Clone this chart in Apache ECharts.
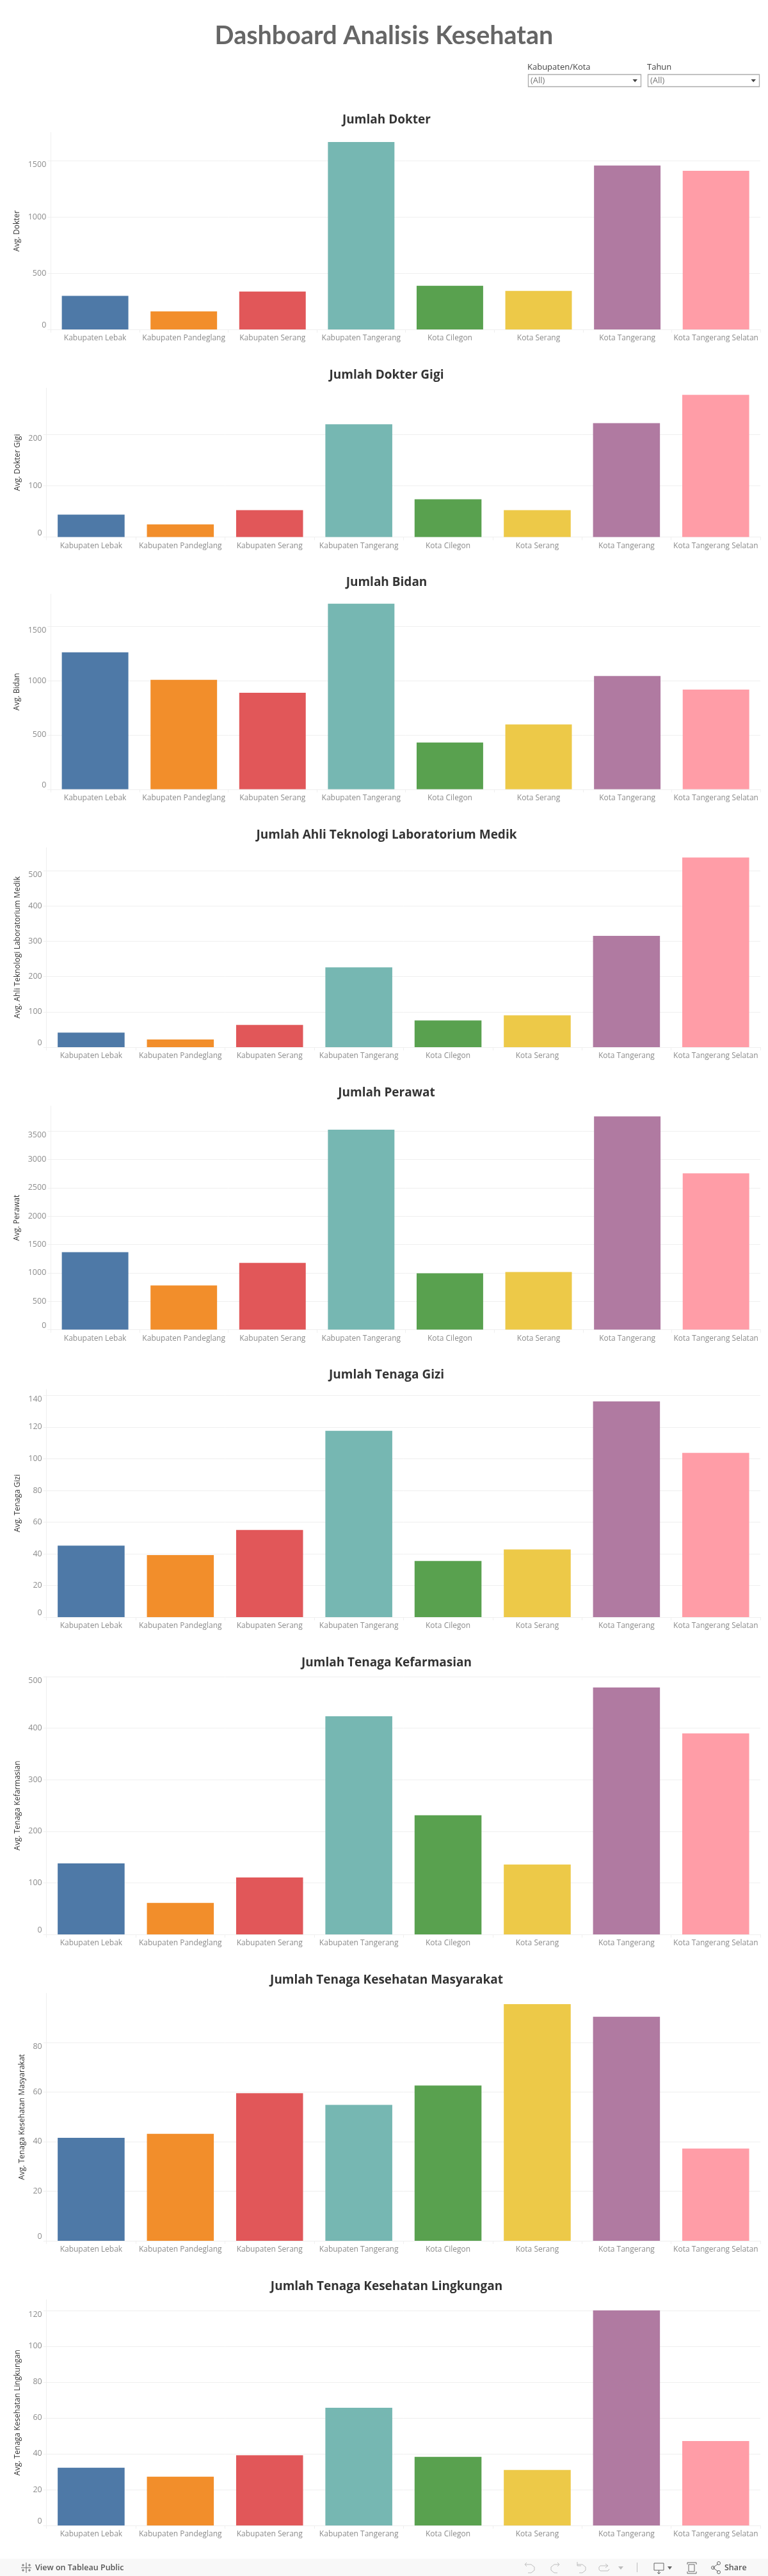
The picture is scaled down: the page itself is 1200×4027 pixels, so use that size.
<!DOCTYPE html>
<html><head><meta charset="utf-8">
<style>html,body{margin:0;padding:0;background:#fff}#c{width:1200px;height:4027px}</style>
<script src="https://cdn.jsdelivr.net/npm/echarts@6/dist/echarts.min.js"></script>
</head><body><div id="c"></div>
<script>
const categories = ['Kabupaten Lebak','Kabupaten Pandeglang','Kabupaten Serang','Kabupaten Tangerang','Kota Cilegon','Kota Serang','Kota Tangerang','Kota Tangerang Selatan'];
const colors = ['#4e79a7','#f28e2b','#e15759','#76b7b2','#59a14f','#edc948','#b07aa1','#ff9da7'];

const dokter = [298,160,337,1667,388,343,1458,1411];
const dokterGigi = [43.7,24.7,52.3,220,73.6,52.3,222.4,277.6];
const bidan = [1261,1007,888,1708,430,596,1042,918];
const atlm = [41,21.6,63,226,75.6,90,315,537];
const perawat = [1365,777,1175,3525,991,1016,3757,2754];
const gizi = [45.1,39.2,55,117.6,35.4,42.7,136.2,103.7];
const kefarmasian = [137.7,61,110.5,423,231,135.5,479,390];
const kesmas = [41.5,43.1,59.5,54.8,62.6,95.4,90.3,37.2];
const kesling = [32.2,27.2,39.2,65.7,38.3,31,120,47.1];

const ticksDokter = [0,500,1000,1500];
const ticksGigi = [0,100,200];
const ticksBidan = [0,500,1000,1500];
const ticksAtlm = [0,100,200,300,400,500];
const ticksPerawat = [0,500,1000,1500,2000,2500,3000,3500];
const ticksGizi = [0,20,40,60,80,100,120,140];
const ticksFarmasi = [0,100,200,300,400,500];
const ticksKesmas = [0,20,40,60,80];
const ticksKesling = [0,20,40,60,80,100,120];

const FONT = '"Open Sans", sans-serif';
const panels = [
 {t:'Jumlah Dokter', y:'Avg. Dokter', d:dokter, k:ticksDokter, max:1752, left:79.3, top:207, bottom:515, ty:185},
 {t:'Jumlah Dokter Gigi', y:'Avg. Dokter Gigi', d:dokterGigi, k:ticksGigi, max:290.8, left:72.7, top:606.6, bottom:839.5, ty:584},
 {t:'Jumlah Bidan', y:'Avg. Bidan', d:bidan, k:ticksBidan, max:1795, left:79.3, top:929, bottom:1233.8, ty:908},
 {t:'Jumlah Ahli Teknologi Laboratorium Medik', y:'Avg. Ahli Teknologi Laboratorium Medik', d:atlm, k:ticksAtlm, max:565, left:72.7, top:1325, bottom:1637, ty:1303},
 {t:'Jumlah Perawat', y:'Avg. Perawat', d:perawat, k:ticksPerawat, max:3941, left:79.3, top:1729, bottom:2078.5, ty:1706},
 {t:'Jumlah Tenaga Gizi', y:'Avg. Tenaga Gizi', d:gizi, k:ticksGizi, max:143.8, left:72.7, top:2172, bottom:2528, ty:2147},
 {t:'Jumlah Tenaga Kefarmasian', y:'Avg. Tenaga Kefarmasian', d:kefarmasian, k:ticksFarmasi, max:500, left:72.7, top:2621, bottom:3024, ty:2597},
 {t:'Jumlah Tenaga Kesehatan Masyarakat', y:'Avg. Tenaga Kesehatan Masyarakat', d:kesmas, k:ticksKesmas, max:99.8, left:72.7, top:3116, bottom:3503, ty:3093},
 {t:'Jumlah Tenaga Kesehatan Lingkungan', y:'Avg. Tenaga Kesehatan Lingkungan', d:kesling, k:ticksKesling, max:126, left:72.7, top:3595, bottom:3948, ty:3572}
];
const LINE = '#efefef';

const titles = [{text:'Dashboard Analisis Kesehatan', left:595, top:51.5, textAlign:'center', textVerticalAlign:'middle',
  textStyle:{fontFamily:'Lato, sans-serif',fontSize:39.5,fontWeight:700,color:'#666666'}}];
panels.forEach(p=>titles.push({text:p.t,left:599,top:p.ty-2,textAlign:'center',textVerticalAlign:'middle',
  textStyle:{fontFamily:FONT,fontSize:19,fontWeight:700,color:'#333333'}}));

const grid=[],xAxis=[],yAxis=[],series=[];
panels.forEach((p,i)=>{
  grid.push({left:p.left,width:1188-p.left,top:p.top,height:p.bottom-p.top,containLabel:false});
  xAxis.push({type:'category',gridIndex:i,data:categories,
    axisLine:{show:true,lineStyle:{color:LINE}},
    axisTick:{show:true,length:5,lineStyle:{color:LINE}},
    splitLine:{show:false},
    axisLabel:{interval:0,hideOverlap:false,fontFamily:FONT,fontSize:12,color:'#8c8c8c',margin:8}});
  yAxis.push({type:'value',gridIndex:i,min:0,max:p.max,
    name:p.y,nameLocation:'middle',nameGap:p.left-41,nameRotate:90,
    nameTextStyle:{fontFamily:FONT,fontSize:12,color:'#333333'},
    axisLine:{show:true,lineStyle:{color:LINE}},
    axisTick:{show:true,length:5,lineStyle:{color:LINE},customValues:p.k},
    splitLine:{show:true,lineStyle:{color:LINE,width:1}},
    axisLabel:{customValues:p.k,formatter:v=>String(v),fontFamily:FONT,fontSize:12.5,color:'#8c8c8c',margin:7,
      verticalAlignMinLabel:'bottom',verticalAlignMaxLabel:'top'}});
  series.push({type:'bar',xAxisIndex:i,yAxisIndex:i,data:p.d,colorBy:'data',barCategoryGap:'25%',
    color:colors,silent:true,animation:false});
});

const T=(x,y,text,size,color,weight,align)=>({type:'text',x,y,silent:true,
  style:{text,fontFamily:FONT,fontSize:size,fill:color,fontWeight:weight||400,align:align||'left',verticalAlign:'middle'}});
const B=(x,y,w,h,fill,stroke)=>({type:'rect',silent:true,shape:{x,y,width:w,height:h},style:{fill:fill||'none',stroke:stroke||'none',lineWidth:1.3}});
const L=(stroke,...pts)=>({type:'polyline',silent:true,shape:{points:pts},style:{stroke,fill:'none',lineWidth:1}});
const G=(fill,...pts)=>({type:'polygon',silent:true,shape:{points:pts},style:{fill}});
const C=(cx,cy,r,stroke)=>({type:'circle',silent:true,shape:{cx,cy,r},style:{stroke,fill:'none',lineWidth:1}});
const ICON='#bdbdbd', ICON2='#666666';
const graphic=[
 T(824,105.5,'Kabupaten/Kota',13,'#444444'), B(825.5,116.5,176,19,'#fff','#aaaaaa'), T(829,126,'(All)',13,'#777777'), G('#444444',[988.5,124],[996,124],[992.2,128.5]),
 T(1011,105.5,'Tahun',13,'#444444'), B(1012.5,116.5,174,19,'#fff','#aaaaaa'), T(1016,126,'(All)',13,'#777777'), G('#444444',[1173.5,124],[1181,124],[1177.2,128.5]),
 B(0,4000,1200,27,'#f8f8f8'),
 L(ICON2,[41,4006],[41,4022]), L(ICON2,[33,4014],[49,4014]),
 L(ICON2,[36,4008],[36,4012]), L(ICON2,[34,4010],[38,4010]), L(ICON2,[46,4008],[46,4012]), L(ICON2,[44,4010],[48,4010]),
 L(ICON2,[36,4016],[36,4020]), L(ICON2,[34,4018],[38,4018]), L(ICON2,[46,4016],[46,4020]), L(ICON2,[44,4018],[48,4018]),
 T(55,4014,'View on Tableau Public',12.5,'#555555',600),
 L(ICON,[823,4006],[820,4009],[823,4012]), L(ICON,[820,4009],[830,4009],[835,4013],[835,4018],[830,4022],[825,4022]),
 L(ICON,[871,4006],[874,4009],[871,4012]), L(ICON,[874,4009],[866,4009],[861,4013],[861,4018],[866,4022],[871,4022]),
 L(ICON,[902,4005],[902,4011],[908,4011]), L(ICON,[902,4009],[910,4009],[915,4013],[915,4018],[910,4022],[905,4022]),
 L(ICON,[946,4008],[950,4011],[946,4014]), L(ICON,[950,4011],[938,4011],[936,4013],[936,4017],[938,4019],[950,4019],[952,4016]),
 G(ICON,[966,4012],[974,4012],[970,4017]),
 L(ICON,[995.5,4006],[995.5,4021]),
 L(ICON2,[1022,4007],[1037,4007],[1037,4018],[1022,4018],[1022,4007]), L(ICON2,[1029.5,4018],[1029.5,4023]), L(ICON2,[1027,4021],[1029.5,4024],[1032,4021]),
 G(ICON2,[1043,4012],[1050,4012],[1046.5,4017]),
 L(ICON2,[1074,4009],[1074,4006],[1088,4006],[1088,4009]), L(ICON2,[1074,4020],[1074,4023],[1088,4023],[1088,4020]), L(ICON2,[1076,4009],[1085,4009],[1085,4020],[1076,4020],[1076,4009]),
 L(ICON2,[1122,4008],[1114,4014],[1122,4020]), C(1114,4014,2.5,ICON2), C(1123,4007,2.5,ICON2), C(1123,4021,2.5,ICON2),
 T(1132,4014,'Share',12.5,'#555555',600)
];

const chart=echarts.init(document.getElementById('c'),null,{renderer:'canvas'});
chart.setOption({animation:false,backgroundColor:'#ffffff',title:titles,grid,xAxis,yAxis,series,graphic});
</script></body></html>
